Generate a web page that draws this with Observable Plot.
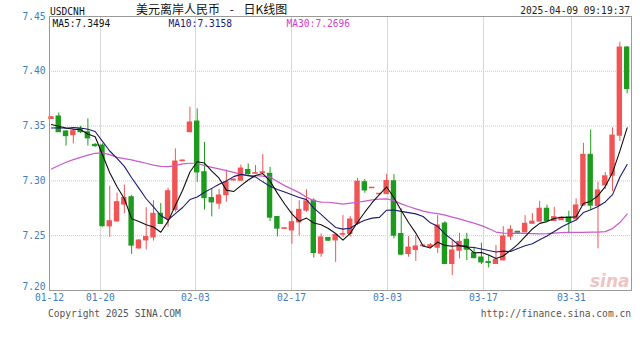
<!DOCTYPE html>
<html><head><meta charset="utf-8">
<script src="https://cdn.jsdelivr.net/npm/d3@7"></script>
<script src="https://cdn.jsdelivr.net/npm/@observablehq/plot@0.6"></script>
<style>
body{margin:0;background:#fff;}
#wrap{position:relative;width:640px;height:349px;overflow:hidden;background:#fff;}
.t{position:absolute;white-space:nowrap;font-family:"DejaVu Sans Mono",monospace;font-size:9.6px;line-height:10px;}
#title{font-family:"Noto Sans CJK SC",sans-serif;font-size:12px;line-height:12px;word-spacing:7px;}
</style></head><body><div id="wrap"><div id="chart" style="position:absolute;left:0;top:0"></div></div>
<script>
// ---- data ----
const symbol = "USDCNH";
const titleText = "美元离岸人民币 - 日K线图";
const stamp = "2025-04-09 09:19:37";
const maLabels = ["MA5:7.3494", "MA10:7.3158", "MA30:7.2696"];
const copyright = "Copyright 2025 SINA.COM";
const site = "http://finance.sina.com.cn";
const tickLabels = ["01-12", "01-20", "02-03", "02-17", "03-03", "03-17", "03-31"];
const tickPos = [-0.27, 6.72, 19.76, 32.94, 46.11, 59.28, 71.36];
const yTicks = [7.20, 7.25, 7.30, 7.35, 7.40, 7.45];

const opens = [7.3566,7.3587,7.3450,7.3418,7.3473,7.3443,7.3328,7.3322,7.2586,7.2631,
7.2784,7.2850,7.2385,7.2458,7.2485,7.2699,7.2653,7.2735,7.3180,7.3445,
7.3541,7.3078,7.2843,7.2793,7.2870,7.3005,7.3003,7.3099,7.3066,7.3073,
7.3064,7.2670,7.2563,7.2549,7.2622,7.2729,7.2818,7.2337,7.2478,7.2458,
7.2510,7.2516,7.2610,7.2987,7.2934,7.2879,7.2880,7.2996,7.2515,7.2334,
7.2370,7.2405,7.2398,7.2391,7.2610,7.2243,7.2364,7.2462,7.2339,7.2300,
7.2258,7.2243,7.2276,7.2492,7.2535,7.2531,7.2610,7.2629,7.2745,7.2635,
7.2642,7.2665,7.2651,7.2775,7.3237,7.2772,7.2960,7.3048,7.3413,7.4216];
const highs = [7.3585,7.3620,7.3459,7.3468,7.3498,7.3566,7.3340,7.3338,7.2951,7.2889,
7.2963,7.2866,7.2464,7.2756,7.2820,7.2793,7.2934,7.3292,7.3190,7.3672,
7.3657,7.3352,7.2930,7.2921,7.3099,7.3015,7.3146,7.3155,7.3140,7.3240,
7.3124,7.2672,7.2570,7.2722,7.2820,7.2918,7.2836,7.2516,7.2485,7.2510,
7.2683,7.2674,7.3023,7.3012,7.2940,7.2884,7.3059,7.3057,7.2745,7.2492,
7.2501,7.2415,7.2430,7.2683,7.2629,7.2455,7.2522,7.2522,7.2394,7.2432,
7.2318,7.2410,7.2583,7.2592,7.2540,7.2683,7.2702,7.2814,7.2779,7.2759,
7.2670,7.2723,7.2836,7.3343,7.3464,7.2987,7.3076,7.3484,7.4265,7.4226];
const lows = [7.3562,7.3443,7.3318,7.3338,7.3432,7.3318,7.3307,7.2577,7.2485,7.2622,
7.2699,7.2330,7.2373,7.2370,7.2451,7.2601,7.2577,7.2714,7.3176,7.3440,
7.2987,7.2734,7.2672,7.2741,7.2805,7.3000,7.3000,7.3048,7.3062,7.3065,
7.2629,7.2489,7.2560,7.2422,7.2496,7.2714,7.2296,7.2303,7.2450,7.2257,
7.2485,7.2487,7.2592,7.2887,7.2932,7.2876,7.2876,7.2471,7.2318,7.2303,
7.2266,7.2395,7.2380,7.2339,7.2236,7.2136,7.2288,7.2273,7.2290,7.2236,
7.2206,7.2240,7.2270,7.2455,7.2525,7.2525,7.2605,7.2625,7.2630,7.2632,
7.2638,7.2516,7.2648,7.2770,7.2729,7.2380,7.2921,7.2904,7.3359,7.3794];
const closes = [7.3580,7.3445,7.3409,7.3453,7.3445,7.3389,7.3318,7.2588,7.2631,7.2805,
7.2843,7.2410,7.2455,7.2487,7.2699,7.2608,7.2905,7.3176,7.3185,7.3532,
7.3078,7.2843,7.2805,7.2866,7.2987,7.3012,7.3112,7.3064,7.3070,7.3078,
7.2665,7.2565,7.2567,7.2622,7.2735,7.2813,7.2343,7.2483,7.2455,7.2505,
7.2514,7.2647,7.2992,7.2914,7.2937,7.2882,7.2998,7.2501,7.2328,7.2391,
7.2401,7.2410,7.2412,7.2592,7.2243,7.2364,7.2443,7.2373,7.2296,7.2257,
7.2252,7.2279,7.2492,7.2553,7.2528,7.2608,7.2627,7.2745,7.2635,7.2668,
7.2663,7.2626,7.2775,7.3237,7.2775,7.2912,7.3041,7.3413,7.4216,7.3839];
// closes before the visible window (estimated from where MA5/MA10 start)
const priorCloses = [7.342,7.345,7.340,7.348,7.350,7.352,7.349,7.351,7.347];
// MA30, one value per candle
const ma30 = [7.3108,7.3140,7.3170,7.3194,7.3215,7.3235,7.3252,7.3255,7.3240,7.3215,
7.3203,7.3192,7.3176,7.3161,7.3144,7.3133,7.3130,7.3140,7.3155,7.3161,
7.3161,7.3140,7.3124,7.3109,7.3094,7.3078,7.3062,7.3048,7.3048,7.3044,
7.3035,7.2994,7.2957,7.2925,7.2893,7.2850,7.2820,7.2807,7.2805,7.2797,
7.2788,7.2797,7.2805,7.2816,7.2827,7.2834,7.2836,7.2820,7.2790,7.2766,
7.2745,7.2724,7.2711,7.2702,7.2688,7.2670,7.2653,7.2633,7.2615,7.2592,
7.2565,7.2533,7.2524,7.2522,7.2524,7.2522,7.2519,7.2516,7.2519,7.2524,
7.2528,7.2531,7.2531,7.2531,7.2533,7.2533,7.2537,7.2565,7.2620,7.2696];

// ---- build ----
const RED = "#f05454", GREEN = "#1e9a1e", AXIS = "#3d7dbd";
const n = closes.length;
const candles = d3.range(n).map(i => ({i, o: opens[i], h: highs[i], l: lows[i], c: closes[i], up: closes[i] >= opens[i]}));
const all = priorCloses.concat(closes);
function movingAvg(k) {
  return d3.range(n).map(i => {
    const j = i + priorCloses.length;
    return {i, v: d3.mean(all.slice(Math.max(0, j - k + 1), j + 1))};
  });
}
const ma5 = movingAvg(5), ma10 = movingAvg(10);
const ma30d = ma30.map((v, i) => ({i, v}));
const xTicks = tickPos.map((p, k) => ({p, label: tickLabels[k]}));
const mono = "DejaVu Sans Mono, monospace";
const yLab = {frameAnchor: "left", dx: -4, textAnchor: "end", fill: AXIS, fontSize: 9.6, fontFamily: mono, text: d => d.toFixed(2), y: d => d};

const chart = Plot.plot({
  width: 640, height: 305,
  marginTop: 16, marginBottom: 15, marginLeft: 49, marginRight: 9,
  style: {background: "transparent", fontFamily: mono},
  x: {domain: [-0.27, 79.6], axis: null},
  y: {domain: [7.20, 7.45], axis: null},
  marks: [
    Plot.ruleY(yTicks.slice(1, -1), {stroke: "#c8c8c8", strokeDasharray: "1,1"}),
    Plot.ruleX(xTicks.slice(1), {x: "p", stroke: "#d6d6d6"}),
    Plot.ruleX(candles, {x: "i", y1: "l", y2: "h", stroke: d => d.up ? RED : GREEN, strokeWidth: 1}),
    Plot.rect(candles, {x1: d => d.i - 0.37, x2: d => d.i + 0.37,
      y1: d => Math.min(d.o, d.c), y2: d => Math.max(d.o, d.c),
      fill: d => d.up ? RED : GREEN, insetTop: -0.6, insetBottom: -0.6}),
    Plot.line(ma30d, {x: "i", y: "v", stroke: "#c95ccc", strokeWidth: 1.2}),
    Plot.line(ma10, {x: "i", y: "v", stroke: "#1c1c70", strokeWidth: 1.1}),
    Plot.line(ma5, {x: "i", y: "v", stroke: "#111", strokeWidth: 1.1}),
    Plot.frame({stroke: "#9a9a9a"}),
    Plot.text(yTicks.slice(1), yLab),
    Plot.text(yTicks.slice(0, 1), {...yLab, dy: -4}),
    Plot.text(xTicks, {x: "p", text: "label", frameAnchor: "bottom", dy: 10, fill: AXIS, fontSize: 9.6, fontFamily: mono}),
    Plot.text([maLabels[0]], {frameAnchor: "top-left", dx: 3, dy: 7, lineAnchor: "middle", textAnchor: "start", fill: "#111", fontSize: 9.6, fontFamily: mono}),
    Plot.text([maLabels[1]], {frameAnchor: "top-left", dx: 119, dy: 7, lineAnchor: "middle", textAnchor: "start", fill: "#1c1c80", fontSize: 9.6, fontFamily: mono}),
    Plot.text([maLabels[2]], {frameAnchor: "top-left", dx: 237, dy: 7, lineAnchor: "middle", textAnchor: "start", fill: "#d040d0", fontSize: 9.6, fontFamily: mono}),
    Plot.text(["sina"], {frameAnchor: "bottom-right", dx: -2, dy: -4, lineAnchor: "bottom", textAnchor: "end", fill: "#efc4c4", fontSize: 17, fontStyle: "italic", fontWeight: "bold", fontFamily: "DejaVu Sans, sans-serif"})
  ]
});
const wrap = document.getElementById("wrap");
document.getElementById("chart").appendChild(chart);
function addText(txt, css, id) {
  const s = document.createElement("span");
  s.className = "t"; s.textContent = txt; s.style.cssText = css;
  if (id) s.id = id;
  wrap.appendChild(s);
}
addText(symbol, "left:50px;top:7px;color:#111;");
addText(titleText, "left:136px;top:3px;color:#111;", "title");
addText(stamp, "right:10px;top:6px;color:#222;");
addText(copyright, "left:48px;top:309px;color:#555;");
addText(site, "right:9px;top:309px;color:#555;");
</script></body></html>
